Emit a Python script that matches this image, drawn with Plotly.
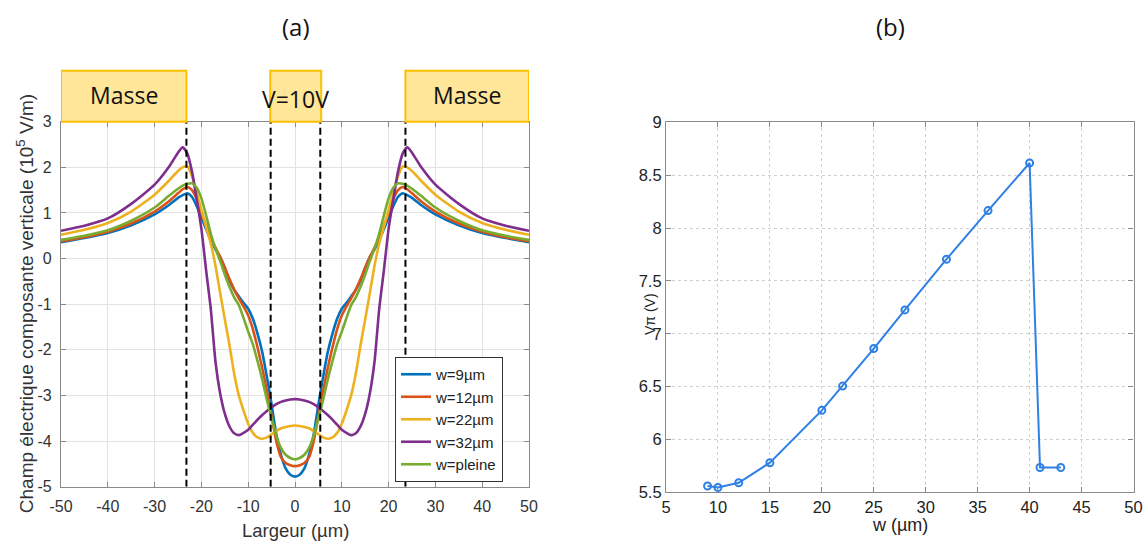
import plotly.graph_objects as go

# ---------------- data: panel (a) ----------------
largeur = [-50, -45, -40, -35, -30, -27, -25, -24, -23, -22, -21, -20, -19, -18, -17, -16,
           -15, -14, -13, -12, -11, -10, -9, -8, -7, -6, -5, -4, -3, -2, -1, 0,
           1, 2, 3, 4, 5, 6, 7, 8, 9, 10, 11, 12, 13, 14, 15, 16, 17, 18, 19, 20,
           21, 22, 23, 24, 25, 27, 30, 35, 40, 45, 50]

e_w9 = [0.36, 0.45, 0.56, 0.73, 0.97, 1.17, 1.33, 1.39, 1.43, 1.35, 1.15, 0.90, 0.65, 0.40, 0.20, 0.03,
        -0.20, -0.48, -0.68, -0.83, -0.97, -1.10, -1.32, -1.65, -2.05, -2.60, -3.20, -3.85, -4.30, -4.60, -4.74, -4.78,
        -4.74, -4.60, -4.30, -3.85, -3.20, -2.60, -2.05, -1.65, -1.32, -1.10, -0.97, -0.83, -0.68, -0.48, -0.20, 0.03,
        0.20, 0.40, 0.65, 0.90, 1.15, 1.35, 1.43, 1.39, 1.33, 1.17, 0.97, 0.73, 0.56, 0.45, 0.36]

e_w12 = [0.38, 0.47, 0.59, 0.77, 1.03, 1.25, 1.43, 1.52, 1.57, 1.50, 1.30, 1.00, 0.72, 0.46, 0.24, 0.04,
         -0.20, -0.45, -0.68, -0.87, -1.05, -1.25, -1.55, -1.95, -2.40, -2.90, -3.45, -4.00, -4.35, -4.48, -4.53, -4.55,
         -4.53, -4.48, -4.35, -4.00, -3.45, -2.90, -2.40, -1.95, -1.55, -1.25, -1.05, -0.87, -0.68, -0.45, -0.20, 0.04,
         0.24, 0.46, 0.72, 1.00, 1.30, 1.50, 1.57, 1.52, 1.43, 1.25, 1.03, 0.77, 0.59, 0.47, 0.38]

e_w22 = [0.52, 0.63, 0.78, 1.03, 1.40, 1.70, 1.92, 2.00, 2.02, 1.80, 1.45, 1.07, 0.70, 0.33, -0.15, -0.75,
         -1.33, -1.90, -2.52, -3.00, -3.33, -3.62, -3.82, -3.92, -3.95, -3.92, -3.85, -3.78, -3.72, -3.69, -3.67, -3.66,
         -3.67, -3.69, -3.72, -3.78, -3.85, -3.92, -3.95, -3.92, -3.82, -3.62, -3.33, -3.00, -2.52, -1.90, -1.33, -0.75,
         -0.15, 0.33, 0.70, 1.07, 1.45, 1.80, 2.02, 2.00, 1.92, 1.70, 1.40, 1.03, 0.78, 0.63, 0.52]

e_w32 = [0.61, 0.72, 0.88, 1.20, 1.62, 2.00, 2.32, 2.44, 2.30, 1.90, 1.30, 0.65, -0.25, -1.10, -2.25, -2.95,
         -3.40, -3.68, -3.83, -3.87, -3.82, -3.75, -3.64, -3.53, -3.43, -3.34, -3.26, -3.19, -3.14, -3.11, -3.09, -3.08,
         -3.09, -3.11, -3.14, -3.19, -3.26, -3.34, -3.43, -3.53, -3.64, -3.75, -3.82, -3.87, -3.83, -3.68, -3.40, -2.95,
         -2.25, -1.10, -0.25, 0.65, 1.30, 1.90, 2.30, 2.44, 2.32, 2.00, 1.62, 1.20, 0.88, 0.72, 0.61]

e_pleine = [0.41, 0.50, 0.62, 0.83, 1.12, 1.37, 1.53, 1.60, 1.64, 1.65, 1.55, 1.32, 0.95, 0.55, 0.22, -0.05,
            -0.35, -0.62, -0.85, -1.02, -1.30, -1.60, -1.88, -2.25, -2.65, -3.10, -3.50, -3.88, -4.15, -4.30, -4.37, -4.40,
            -4.37, -4.30, -4.15, -3.88, -3.50, -3.10, -2.65, -2.25, -1.88, -1.60, -1.30, -1.02, -0.85, -0.62, -0.35, -0.05,
            0.22, 0.55, 0.95, 1.32, 1.55, 1.65, 1.64, 1.60, 1.53, 1.37, 1.12, 0.83, 0.62, 0.50, 0.41]

series_names = ["w=9µm", "w=12µm", "w=22µm", "w=32µm", "w=pleine"]
series_values = [e_w9, e_w12, e_w22, e_w32, e_pleine]
series_colors = ["#0072BD", "#D95319", "#EDB120", "#7E2F8E", "#77AC30"]

x1_ticks = [-50, -40, -30, -20, -10, 0, 10, 20, 30, 40, 50]
x1_labels = ["-50", "-40", "-30", "-20", "-10", "0", "10", "20", "30", "40", "50"]
y1_ticks = [-5, -4, -3, -2, -1, 0, 1, 2, 3]
y1_labels = ["-5", "-4", "-3", "-2", "-1", "0", "1", "2", "3"]

electrode_edges = [-23.2, -5.2, 5.4, 23.6]
electrode_boxes = [(-50, -23.2, "Masse"), (-5.3, 5.6, "V=10V"), (23.6, 50, "Masse")]

# ---------------- data: panel (b) ----------------
w_um = [9, 10, 12, 15, 20, 22, 25, 28, 32, 36, 40, 41, 43]
v_pi = [5.56, 5.545, 5.59, 5.78, 6.275, 6.505, 6.86, 7.225, 7.705, 8.165, 8.615, 5.735, 5.735]

# ---------------- figure ----------------
W, H = 1148, 542
FONT = "Liberation Sans, Arial, sans-serif"
FONT_BOX = "Open Sans, Lato, sans-serif"
fig = go.Figure()

for name, vals, col in zip(series_names, series_values, series_colors):
    fig.add_trace(go.Scatter(x=largeur, y=vals, mode="lines", name=name,
                             line=dict(color=col, width=2.6, shape="spline", smoothing=0.6),
                             xaxis="x", yaxis="y"))

fig.add_trace(go.Scatter(x=w_um, y=v_pi, mode="lines+markers", showlegend=False,
                         line=dict(color="#2F80E4", width=2),
                         marker=dict(symbol="circle-open", size=7, color="#2F80E4",
                                     line=dict(width=2, color="#2F80E4")),
                         xaxis="x2", yaxis="y2"))

for xe in electrode_edges:
    fig.add_shape(type="line", xref="x", yref="y", x0=xe, x1=xe, y0=-5, y1=3,
                  line=dict(color="black", width=2, dash="7px,4px"), layer="above")

# plot-area geometry (pixels)
ax1 = dict(l=61, r=529, t=121.7, b=486.7)
ax2 = dict(l=666, r=1133.5, t=122.3, b=492.3)

def xdom(a):
    return [a["l"] / W, a["r"] / W]

def ydom(a):
    return [1 - a["b"] / H, 1 - a["t"] / H]

def px(xp):
    return xp / W

def py(yp):
    return 1 - yp / H

top1 = py(ax1["t"])
box_top = py(70.7)

for x0, x1, label in electrode_boxes:
    fig.add_shape(type="rect", xref="x", yref="paper", x0=x0, x1=x1, y0=top1, y1=box_top,
                  fillcolor="#FFE699", line=dict(color="#FFC000", width=2), layer="above")
    fig.add_annotation(xref="x", yref="paper", x=(x0 + x1) / 2,
                       y=py(99) if label.startswith("V") else py(95),
                       text=label, showarrow=False, yanchor="middle",
                       font=dict(family=FONT_BOX, size=23, color="#111"))

axis_common = dict(showline=True, linecolor="#8a8a8a", linewidth=1.2, mirror="ticks",
                   ticks="inside", ticklen=5, tickcolor="#8a8a8a", zeroline=False,
                   automargin=False)

fig.update_layout(
    width=W, height=H, autosize=False,
    margin=dict(l=0, r=0, t=0, b=0, pad=0),
    paper_bgcolor="white", plot_bgcolor="white",
    showlegend=True,
    legend=dict(x=px(395), y=py(357), xanchor="left", yanchor="top",
                bgcolor="white", bordercolor="#333", borderwidth=1,
                font=dict(family=FONT, size=15, color="#222"),
                tracegroupgap=0),
    xaxis=dict(domain=xdom(ax1), range=[-50, 50], tickvals=x1_ticks, ticktext=x1_labels, anchor="y",
               showgrid=True, gridcolor="#e3e3e3", gridwidth=1, ticklabelstandoff=5,
               tickfont=dict(family=FONT, size=16, color="#333"), **axis_common),
    yaxis=dict(domain=ydom(ax1), range=[-5, 3], tickvals=y1_ticks, ticktext=y1_labels, anchor="x",
               showgrid=True, gridcolor="#e3e3e3", gridwidth=1, ticklabelstandoff=5,
               tickfont=dict(family=FONT, size=16, color="#333"), **axis_common),
    xaxis2=dict(domain=xdom(ax2), range=[5, 50], dtick=5, anchor="y2",
                showgrid=True, gridcolor="#cfcfcf", gridwidth=1, griddash="dot",
                tickfont=dict(family=FONT, size=16.5, color="#222"), **axis_common),
    yaxis2=dict(domain=ydom(ax2), range=[5.5, 9], dtick=0.5, anchor="x2",
                showgrid=True, gridcolor="#cfcfcf", gridwidth=1, griddash="dot",
                tickfont=dict(family=FONT, size=16.5, color="#222"), **axis_common),
)

# axis titles as positioned text
fig.add_annotation(xref="paper", yref="paper", x=px(25), y=py((ax1["t"] + ax1["b"]) / 2),
                   text="Champ électrique composante verticale (10<sup>5</sup> V/m)", textangle=-90,
                   showarrow=False, xanchor="center", yanchor="middle",
                   font=dict(family=FONT, size=19, color="#333"))
fig.add_annotation(xref="paper", yref="paper", x=px((ax1["l"] + ax1["r"]) / 2), y=py(530),
                   text="Largeur (µm)", showarrow=False, xanchor="center", yanchor="middle",
                   font=dict(family=FONT, size=18.5, color="#333"))
fig.add_annotation(xref="paper", yref="paper", x=px(650), y=py(314),
                   text="Vπ (V)", textangle=-90, showarrow=False, xanchor="center", yanchor="middle",
                   font=dict(family=FONT, size=14, color="#222"))
fig.add_annotation(xref="paper", yref="paper", x=px((ax2["l"] + ax2["r"]) / 2), y=py(525),
                   text="w (µm)", showarrow=False, xanchor="center", yanchor="middle",
                   font=dict(family=FONT, size=18, color="#222"))

fig.add_annotation(xref="paper", yref="paper", x=px(296), y=py(27), text="(a)", showarrow=False,
                   xanchor="center", yanchor="middle",
                   font=dict(family=FONT_BOX, size=24, color="#111"))
fig.add_annotation(xref="paper", yref="paper", x=px(890), y=py(27), text="(b)", showarrow=False,
                   xanchor="center", yanchor="middle",
                   font=dict(family=FONT_BOX, size=24, color="#111"))

fig.write_html("out.html", config={"displayModeBar": False},
               post_script="document.body.style.margin='0';document.body.style.overflow='hidden';")
